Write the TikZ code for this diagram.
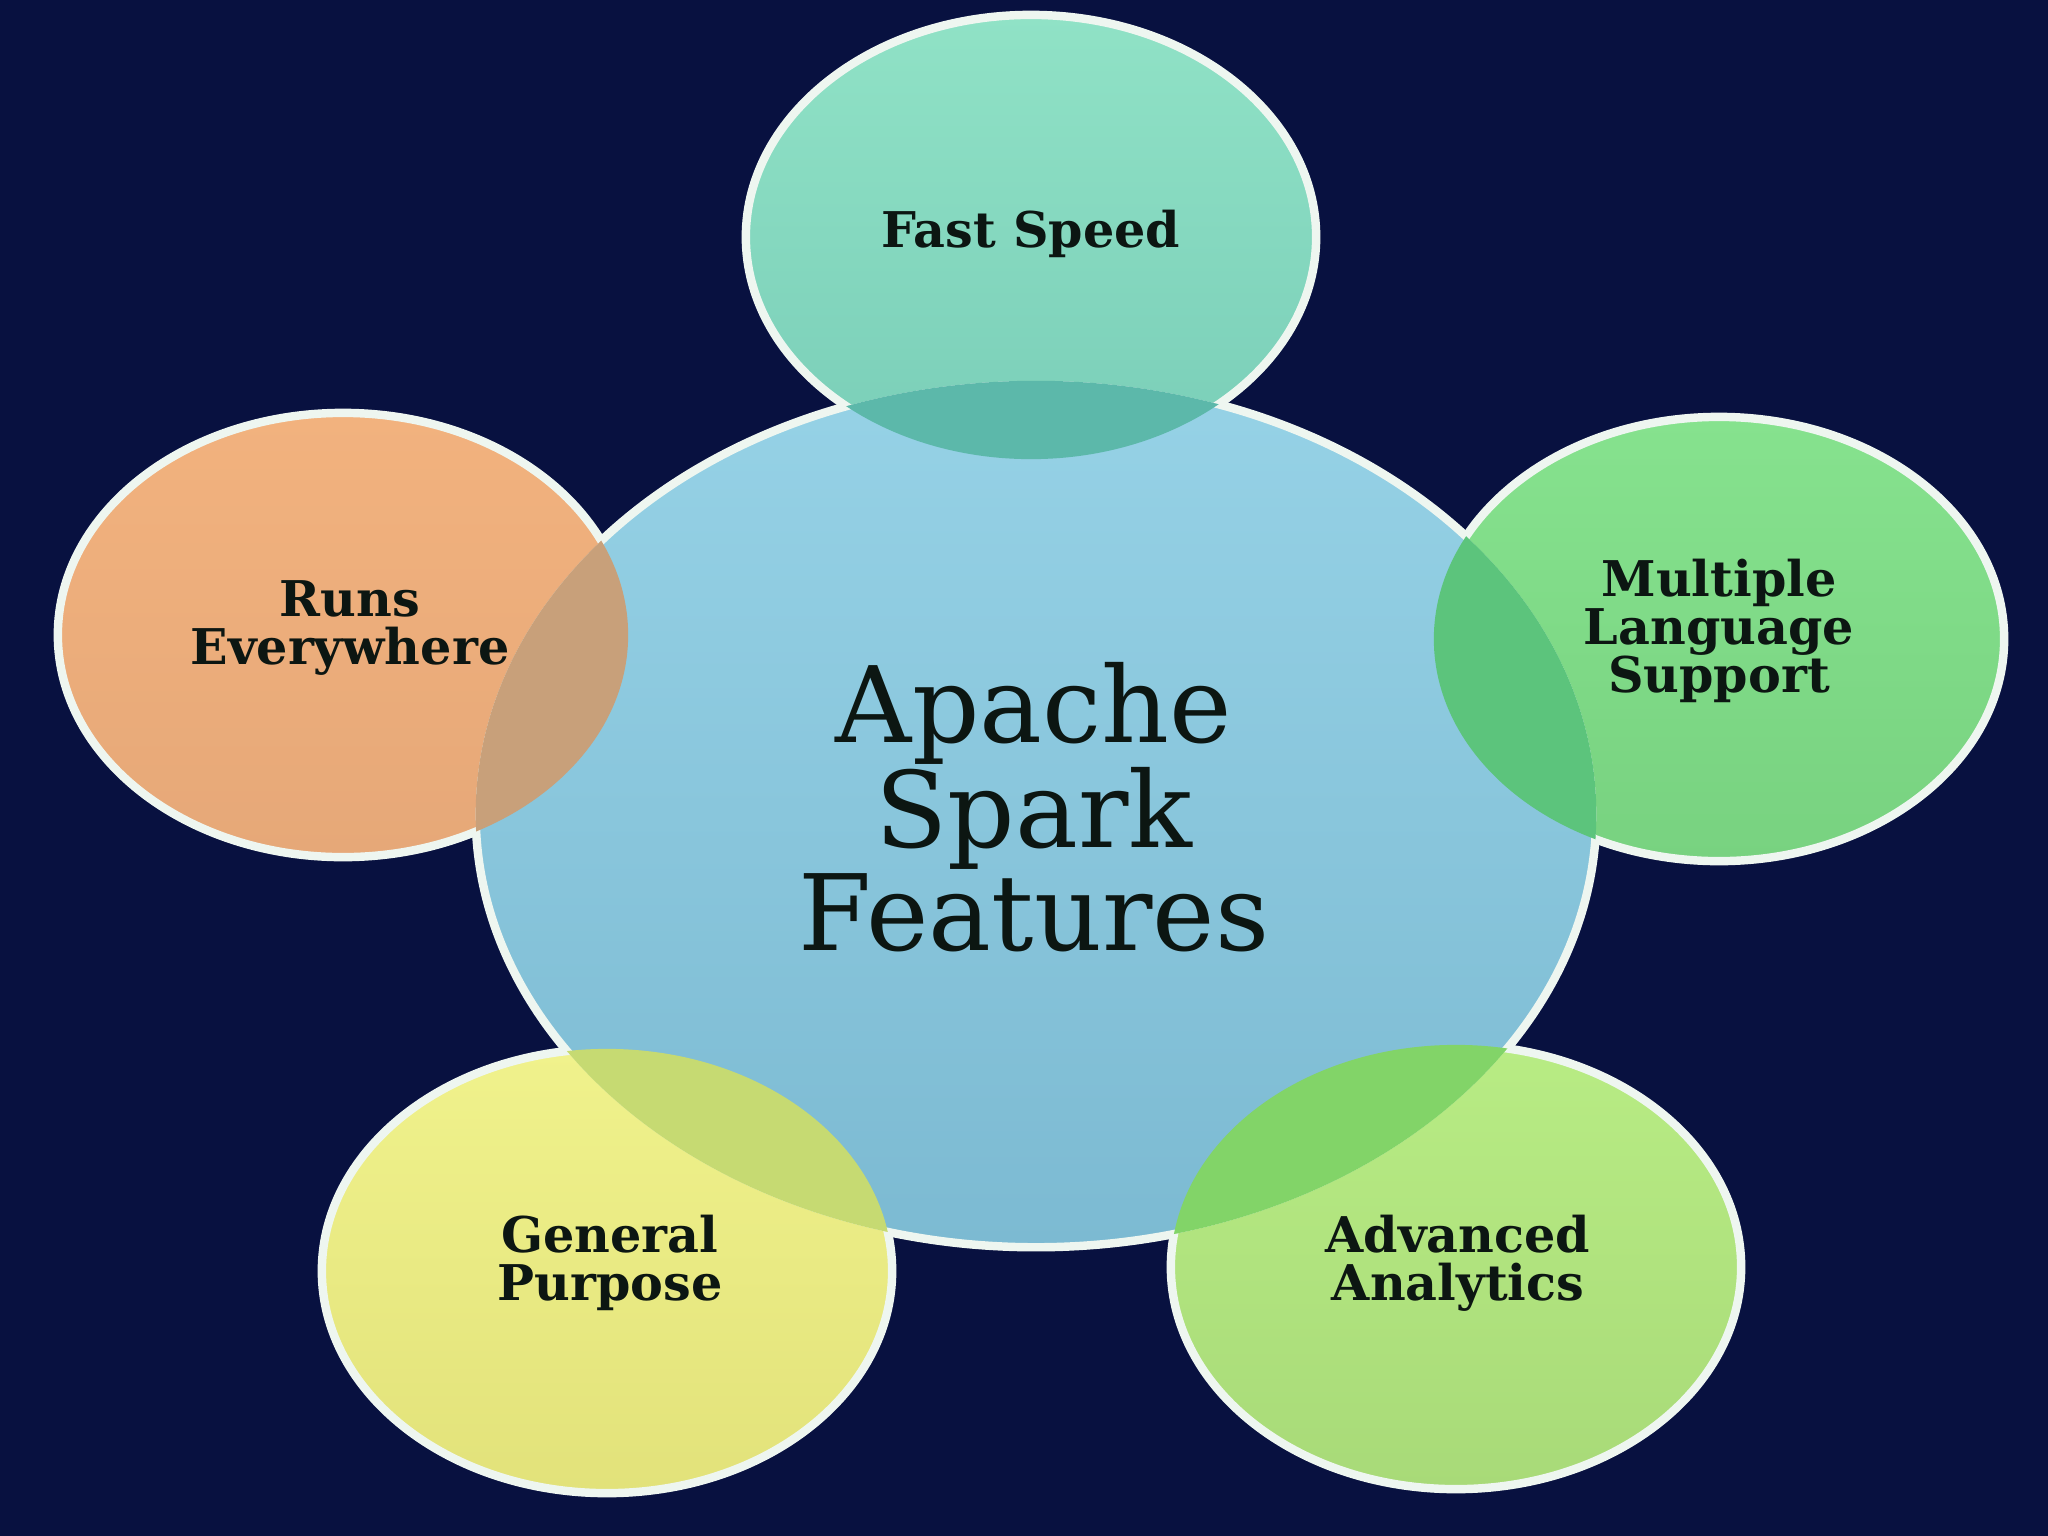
\documentclass[tikz,border=0pt]{standalone}
\usepackage{fontspec}
\setmainfont{DejaVu Serif}
\usetikzlibrary{shapes.geometric}
\definecolor{bgnavy}{RGB}{8,17,64}
\definecolor{rimc}{RGB}{238,246,240}
\definecolor{txtc}{RGB}{12,22,18}
\definecolor{cTop}{RGB}{150,210,230}
\definecolor{cBot}{RGB}{124,186,210}
\definecolor{fTop}{RGB}{144,226,198}
\definecolor{fBot}{RGB}{122,206,184}
\definecolor{fOv}{RGB}{92,184,170}
\definecolor{mTop}{RGB}{134,226,142}
\definecolor{mBot}{RGB}{120,210,128}
\definecolor{mOv}{RGB}{92,196,124}
\definecolor{aTop}{RGB}{184,236,132}
\definecolor{aBot}{RGB}{168,218,120}
\definecolor{aOv}{RGB}{130,212,104}
\definecolor{gTop}{RGB}{240,242,140}
\definecolor{gBot}{RGB}{226,226,122}
\definecolor{gOv}{RGB}{198,218,114}
\definecolor{rTop}{RGB}{242,178,126}
\definecolor{rBot}{RGB}{230,168,120}
\definecolor{rOv}{RGB}{200,160,122}
\tikzset{
  bubble/.style={ellipse, inner sep=0pt, draw=rimc, line width=2.4pt},
  satsize/.style={minimum width=5.70cm, minimum height=4.44cm},
  lbl/.style={font=\bfseries\fontsize{14}{13.6}\selectfont, align=center, text=txtc},
  centertxt/.style={font=\fontsize{30}{28}\selectfont, align=center, text=txtc},
}
\begin{document}
\begin{tikzpicture}[x=0.01cm,y=-0.01cm]
\useasboundingbox (0,0) rectangle (2048,1536);
\fill[bgnavy] (0,0) rectangle (2048,1536);

% central bubble
\node[bubble, minimum width=11.2cm, minimum height=8.66cm, top color=cTop, bottom color=cBot] (C) at (1036,814) {};

% satellites, outside the centre only
\begin{scope}[even odd rule]
  \clip (0,0) rectangle (2048,1536) (C.center) ellipse [x radius=5.6cm, y radius=4.33cm];
  \node[bubble, satsize, top color=fTop, bottom color=fBot] (F) at (1031,237) {};
  \node[bubble, satsize, top color=mTop, bottom color=mBot] (M) at (1719,639) {};
  \node[bubble, satsize, top color=aTop, bottom color=aBot] (A) at (1456,1267) {};
  \node[bubble, satsize, top color=gTop, bottom color=gBot] (G) at (607,1271) {};
  \node[bubble, satsize, top color=rTop, bottom color=rBot] (R) at (343,635) {};
\end{scope}

% overlaps with the centre
\begin{scope}
  \clip (C.center) ellipse [x radius=5.6cm, y radius=4.33cm];
  \fill[fOv] (F.center) ellipse [x radius=2.85cm, y radius=2.22cm];
  \fill[mOv] (M.center) ellipse [x radius=2.85cm, y radius=2.22cm];
  \fill[aOv] (A.center) ellipse [x radius=2.85cm, y radius=2.22cm];
  \fill[gOv] (G.center) ellipse [x radius=2.85cm, y radius=2.22cm];
  \fill[rOv] (R.center) ellipse [x radius=2.85cm, y radius=2.22cm];
\end{scope}

% labels
\node[centertxt] (tC) at (1034,807) {Apache\\Spark\\Features};
\node[lbl] (tF) at (1031,234) {Fast Speed};
\node[lbl] (tM) at (1719,631) {Multiple\\Language\\Support};
\node[lbl] (tA) at (1458,1263) {Advanced\\Analytics};
\node[lbl] (tG) at (610,1263) {General\\Purpose};
\node[lbl] (tR) at (350,628) {Runs\\Everywhere};
\end{tikzpicture}
\end{document}
